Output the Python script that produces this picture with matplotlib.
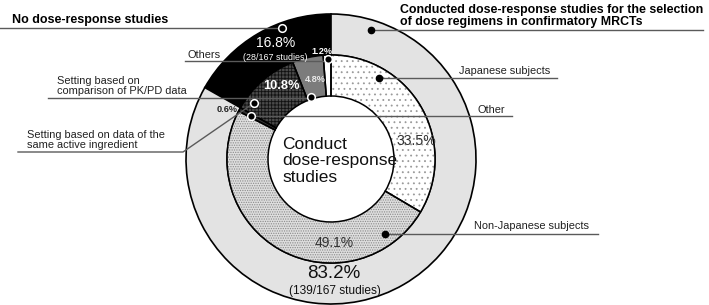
import matplotlib.pyplot as plt

plt.rcParams['font.family'] = ['Liberation Sans', 'DejaVu Sans']
plt.rcParams['hatch.linewidth'] = 0.6

# outer ring: share of all 167 studies
outer_labels = ['No dose-response studies', 'Conduct dose-response studies']
outer_values = [16.8, 83.2]
outer_colors = ['black', '#e3e3e3']

# inner ring: breakdown (counter-clockwise from the top)
inner_labels = ['Others', 'Setting based on comparison of PK/PD data',
                'Setting based on data of the same active ingredient',
                'Other', 'Non-Japanese subjects', 'Japanese subjects']
inner_values = [1.2, 4.8, 10.8, 0.6, 49.1, 33.5]
inner_colors = ['white', '#7c7c7c', '#4a4a4a', '#303030', '#dedede', 'white']
inner_hatch = [None, None, '+++++', None, '.......', '...']
hatch_colors = ['black', 'black', '#111111', 'black', '#8a8a8a', '#9a9a9a']

cx, cy = 331, 159
R1, R2, R3 = 145, 104, 63

fig = plt.figure(figsize=(7.09, 3.05), dpi=100)
ax = fig.add_axes([0, 0, 1, 1])

w1, _ = ax.pie(outer_values, colors=outer_colors, startangle=-90, counterclock=False,
               radius=R1, center=(cx, cy),
               wedgeprops=dict(width=R1 - R2, edgecolor='black', linewidth=1.2))
w2, _ = ax.pie(inner_values, colors=inner_colors, startangle=-90, counterclock=False,
               radius=R2, center=(cx, cy),
               wedgeprops=dict(width=R2 - R3, linewidth=0))
for w, h, hc in zip(w2, inner_hatch, hatch_colors):
    w.set_edgecolor(hc)
    if h:
        w.set_hatch(h)
# black outlines on top of the hatched inner ring
ax.pie(inner_values, colors=['none'] * len(inner_values), startangle=-90, counterclock=False,
       radius=R2, center=(cx, cy),
       wedgeprops=dict(width=R2 - R3, edgecolor='black', linewidth=1.1, fill=False))

ax.set_xlim(0, 709)
ax.set_ylim(305, 0)
ax.set_aspect('equal')
ax.axis('off')

lc = '#5a5a5a'
# leader lines
ax.plot([0, 282], [28, 28], color=lc, lw=1, zorder=3)
ax.plot([371, 703], [30, 30], color=lc, lw=1, zorder=3)
ax.plot([185, 328], [61, 61], color=lc, lw=1, zorder=3)
ax.plot([48, 311], [98, 98], color=lc, lw=1, zorder=3)
ax.plot([18, 183, 254], [152, 152, 103], color=lc, lw=1, zorder=3)
ax.plot([379, 557], [78, 78], color=lc, lw=1, zorder=3)
ax.plot([251, 512], [116, 116], color=lc, lw=1, zorder=3)
ax.plot([385, 598], [234, 234], color=lc, lw=1, zorder=3)

# dots
for x, y in [(371, 30), (379, 78), (385, 234)]:
    ax.plot(x, y, 'o', color='black', ms=4.5, zorder=4)
for x, y in [(282, 28), (254, 103), (328, 59), (311, 97), (251, 116)]:
    ax.plot(x, y, 'o', mfc='black', mec='white', mew=1.1, ms=5.5, zorder=4)

# labels
fs = 7.9
ax.text(12, 20, 'No dose-response studies', fontsize=9, fontweight='bold', va='center')
ax.text(400, 16, 'Conducted dose-response studies for the selection\nof dose regimens in confirmatory MRCTs',
        fontsize=8.9, fontweight='bold', va='center', linespacing=1.05)
ax.text(188, 55, 'Others', fontsize=fs, va='center', color='#222')
ax.text(57, 86, 'Setting based on\ncomparison of PK/PD data', fontsize=fs, va='center',
        color='#222', linespacing=1.05)
ax.text(27, 140, 'Setting based on data of the\nsame active ingredient', fontsize=fs, va='center',
        color='#222', linespacing=1.05)
ax.text(459, 71, 'Japanese subjects', fontsize=fs, va='center', color='#222')
ax.text(478, 110, 'Other', fontsize=fs, va='center', color='#222')
ax.text(474, 226, 'Non-Japanese subjects', fontsize=fs, va='center', color='#222')

# percentages
ax.text(276, 43, '16.8%', fontsize=10, color='white', ha='center', va='center')
ax.text(275, 58, '(28/167 studies)', fontsize=6.4, color='white', ha='center', va='center')
ax.text(322, 51, '1.2%', fontsize=6.6, color='white', fontweight='bold', ha='center', va='center')
ax.text(315, 80, '4.8%', fontsize=6.6, color='#e8e8e8', fontweight='bold', ha='center', va='center')
ax.text(281, 86, '10.8%', fontsize=9.3, color='white', fontweight='bold', ha='center', va='center')
ax.text(227, 109, '0.6%', fontsize=6.6, color='#222', fontweight='bold', ha='center', va='center')
ax.text(416, 141, '33.5%', fontsize=10.2, color='#333', ha='center', va='center')
ax.text(334, 243, '49.1%', fontsize=10, color='#333', ha='center', va='center')
ax.text(334, 273, '83.2%', fontsize=13.5, color='#111', ha='center', va='center')
ax.text(335, 291, '(139/167 studies)', fontsize=8.6, color='#111', ha='center', va='center')
ax.text(282, 161, 'Conduct\ndose-response\nstudies', fontsize=12.5, color='#111', va='center',
        linespacing=1.12)

fig.savefig('out.png', dpi=100)
